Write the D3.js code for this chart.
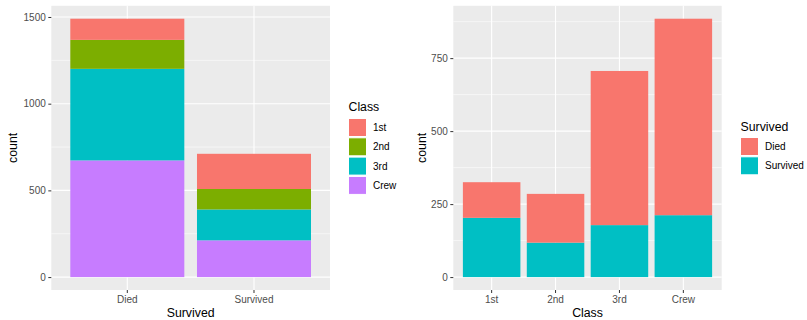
<!DOCTYPE html>
<html lang="en">
<head>
<meta charset="UTF-8">
<title>Titanic class and survival</title>
<script src="https://d3js.org/d3.v7.min.js"></script>
<style>
    body { margin: 0; background: #fff; font-family: "Liberation Sans", Arial, sans-serif; }
    .tick line { stroke: #333333; }
    .tick text { fill: #4D4D4D; font-size: 10px; }
    .title { font-size: 12.3px; fill: #000; }
    .legtext { font-size: 10px; fill: #000; }
</style>
</head>
<body>
<svg width="807" height="320"></svg>
<script>
    // Titanic passengers by class and outcome
    const classes = ["1st", "2nd", "3rd", "Crew"];
    const outcomes = ["Died", "Survived"];
    const died = [122, 167, 528, 673];
    const survived = [203, 118, 178, 212];
    const classColors = ["#F8766D", "#7CAE00", "#00BFC4", "#C77CFF"];
    const outcomeColors = ["#F8766D", "#00BFC4"];
    const leftTicks = [0, 500, 1000, 1500];
    const leftMinor = [250, 750, 1250];
    const rightTicks = [0, 250, 500, 750];
    const rightMinor = [125, 375, 625, 875];

    const svg = d3.select("svg");

    function panel(opts) {
        const { x0, x1, y0, y1, cats, rows, keys, colors, ticks, minor, xTitle, yTitleX } = opts;
        const totals = rows.map(r => d3.sum(keys, k => r[k]));
        const maxV = d3.max(totals);
        const y = d3.scaleLinear().domain([-maxV * 0.05, maxV * 1.05]).range([y1, y0]);
        const x = d3.scaleBand().domain(cats).range([x0, x1]).paddingInner(0.1).paddingOuter(0.15);

        svg.append("rect").attr("x", x0).attr("y", y0)
            .attr("width", x1 - x0).attr("height", y1 - y0).attr("fill", "#EBEBEB");

        svg.append("g").selectAll("line").data(minor).join("line")
            .attr("x1", x0).attr("x2", x1)
            .attr("y1", d => y(d)).attr("y2", d => y(d))
            .attr("stroke", "#fff").attr("stroke-width", 0.55);
        svg.append("g").selectAll("line").data(ticks).join("line")
            .attr("x1", x0).attr("x2", x1)
            .attr("y1", d => y(d)).attr("y2", d => y(d))
            .attr("stroke", "#fff").attr("stroke-width", 1.1);
        svg.append("g").selectAll("line").data(cats).join("line")
            .attr("x1", d => x(d) + x.bandwidth() / 2).attr("x2", d => x(d) + x.bandwidth() / 2)
            .attr("y1", y0).attr("y2", y1)
            .attr("stroke", "#fff").attr("stroke-width", 1.1);

        const stacked = d3.stack().keys(keys)(rows);
        svg.append("g").selectAll("g").data(stacked).join("g")
            .attr("fill", (d, i) => colors[i])
            .selectAll("rect").data(d => d).join("rect")
            .attr("x", d => x(d.data.cat))
            .attr("width", x.bandwidth())
            .attr("y", d => y(d[1]))
            .attr("height", d => y(d[0]) - y(d[1]));

        svg.append("g").attr("transform", `translate(${x0},0)`)
            .call(d3.axisLeft(y).tickValues(ticks).tickFormat(d3.format("d")).tickSize(3).tickPadding(2.5))
            .call(g => g.select(".domain").remove());
        svg.append("g").attr("transform", `translate(0,${y1})`)
            .call(d3.axisBottom(x).tickSize(3).tickPadding(2.9))
            .call(g => g.select(".domain").remove());
        svg.selectAll("g[font-family]").attr("font-family", null).attr("font-size", null);

        svg.append("text").attr("class", "title")
            .attr("x", (x0 + x1) / 2).attr("y", 317)
            .attr("text-anchor", "middle").text(xTitle);
        svg.append("text").attr("class", "title")
            .attr("transform", `translate(${yTitleX},${(y0 + y1) / 2}) rotate(-90)`)
            .attr("text-anchor", "middle").text("count");
    }

    function legend(opts) {
        const { lx, titleY, keyY, labels, colors, title } = opts;
        const g = svg.append("g");
        g.append("text").attr("class", "title").attr("x", lx).attr("y", titleY).text(title);
        const step = 19.3;
        const items = g.selectAll("g.item").data(labels).join("g").attr("class", "item")
            .attr("transform", (d, i) => `translate(${lx},${keyY + i * step})`);
        items.append("rect").attr("width", 18).attr("height", 18)
            .attr("fill", (d, i) => colors[i]).attr("stroke", "#fff").attr("stroke-width", 1);
        items.append("text").attr("class", "legtext")
            .attr("x", 24.5).attr("y", 9).attr("dy", "0.35em").text(d => d);
    }

    // left: outcome on x, stacked by class (1st on top)
    const leftRows = outcomes.map((o, j) => {
        const r = { cat: o };
        classes.forEach((c, i) => { r[c] = j === 0 ? died[i] : survived[i]; });
        return r;
    });
    panel({
        x0: 51.3, x1: 330, y0: 5.8, y1: 290,
        cats: outcomes, rows: leftRows,
        keys: classes.slice().reverse(), colors: classColors.slice().reverse(),
        ticks: leftTicks, minor: leftMinor, xTitle: "Survived", yTitleX: 17.3
    });
    legend({ lx: 348.5, titleY: 110.5, keyY: 118.5, labels: classes, colors: classColors, title: "Class" });

    // right: class on x, stacked by outcome (Died on top)
    const rightRows = classes.map((c, i) => ({ cat: c, Died: died[i], Survived: survived[i] }));
    panel({
        x0: 453.3, x1: 721.7, y0: 5.8, y1: 290,
        cats: classes, rows: rightRows,
        keys: ["Survived", "Died"], colors: [outcomeColors[1], outcomeColors[0]],
        ticks: rightTicks, minor: rightMinor, xTitle: "Class", yTitleX: 426
    });
    legend({ lx: 740.5, titleY: 130.5, keyY: 137.5, labels: outcomes, colors: outcomeColors, title: "Survived" });
</script>
</body>
</html>
